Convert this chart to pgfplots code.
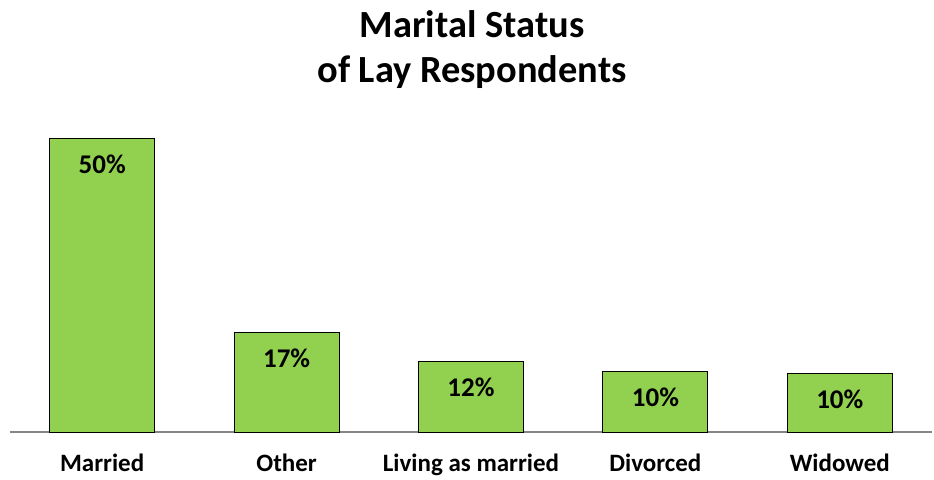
\documentclass[border=0pt]{standalone}
\usepackage{pgfplots}
\pgfplotsset{compat=1.18}
\usepackage{fontspec}
\setmainfont{Carlito}
\definecolor{bargreen}{HTML}{92D050}
\definecolor{axisgray}{HTML}{868686}
\begin{document}
\begin{tikzpicture}
\begin{axis}[
  scale only axis,
  width=461pt, height=161.7pt,
  xmin=-0.5, xmax=4.5, ymin=0, ymax=55,
  axis x line*=bottom,
  axis y line=none,
  x axis line style={axisgray, line width=0.8pt},
  xtick=data,
  xticklabels={Married, Other, Living as married, Divorced, Widowed},
  major tick length=0pt,
  xticklabel style={font=\bfseries\fontsize{12.5}{14}\selectfont, anchor=north, inner sep=0pt, yshift=-11pt},
  ytick=\empty,
  clip=false,
  point meta=explicit symbolic,
  nodes near coords,
  every node near coord/.append style={anchor=north, inner sep=0pt, yshift=-8pt, font=\bfseries\fontsize{13.5}{15}\selectfont, text=black},
]
\addplot[ybar, bar width=52.5pt, fill=bargreen, draw=black, line width=0.5pt]
  coordinates {(0,50) [50\%] (1,17) [17\%] (2,12) [12\%] (3,10.3) [10\%] (4,9.9) [10\%]};
\end{axis}
\node[anchor=north, inner sep=0pt, align=center, font=\bfseries\fontsize{19.2}{22.5}\selectfont] at (231pt,211pt) {Marital Status\\of Lay Respondents};
\pgfresetboundingbox
\path[use as bounding box] (-5pt,-23.5pt) rectangle (462pt,216pt);
\end{tikzpicture}
\end{document}
